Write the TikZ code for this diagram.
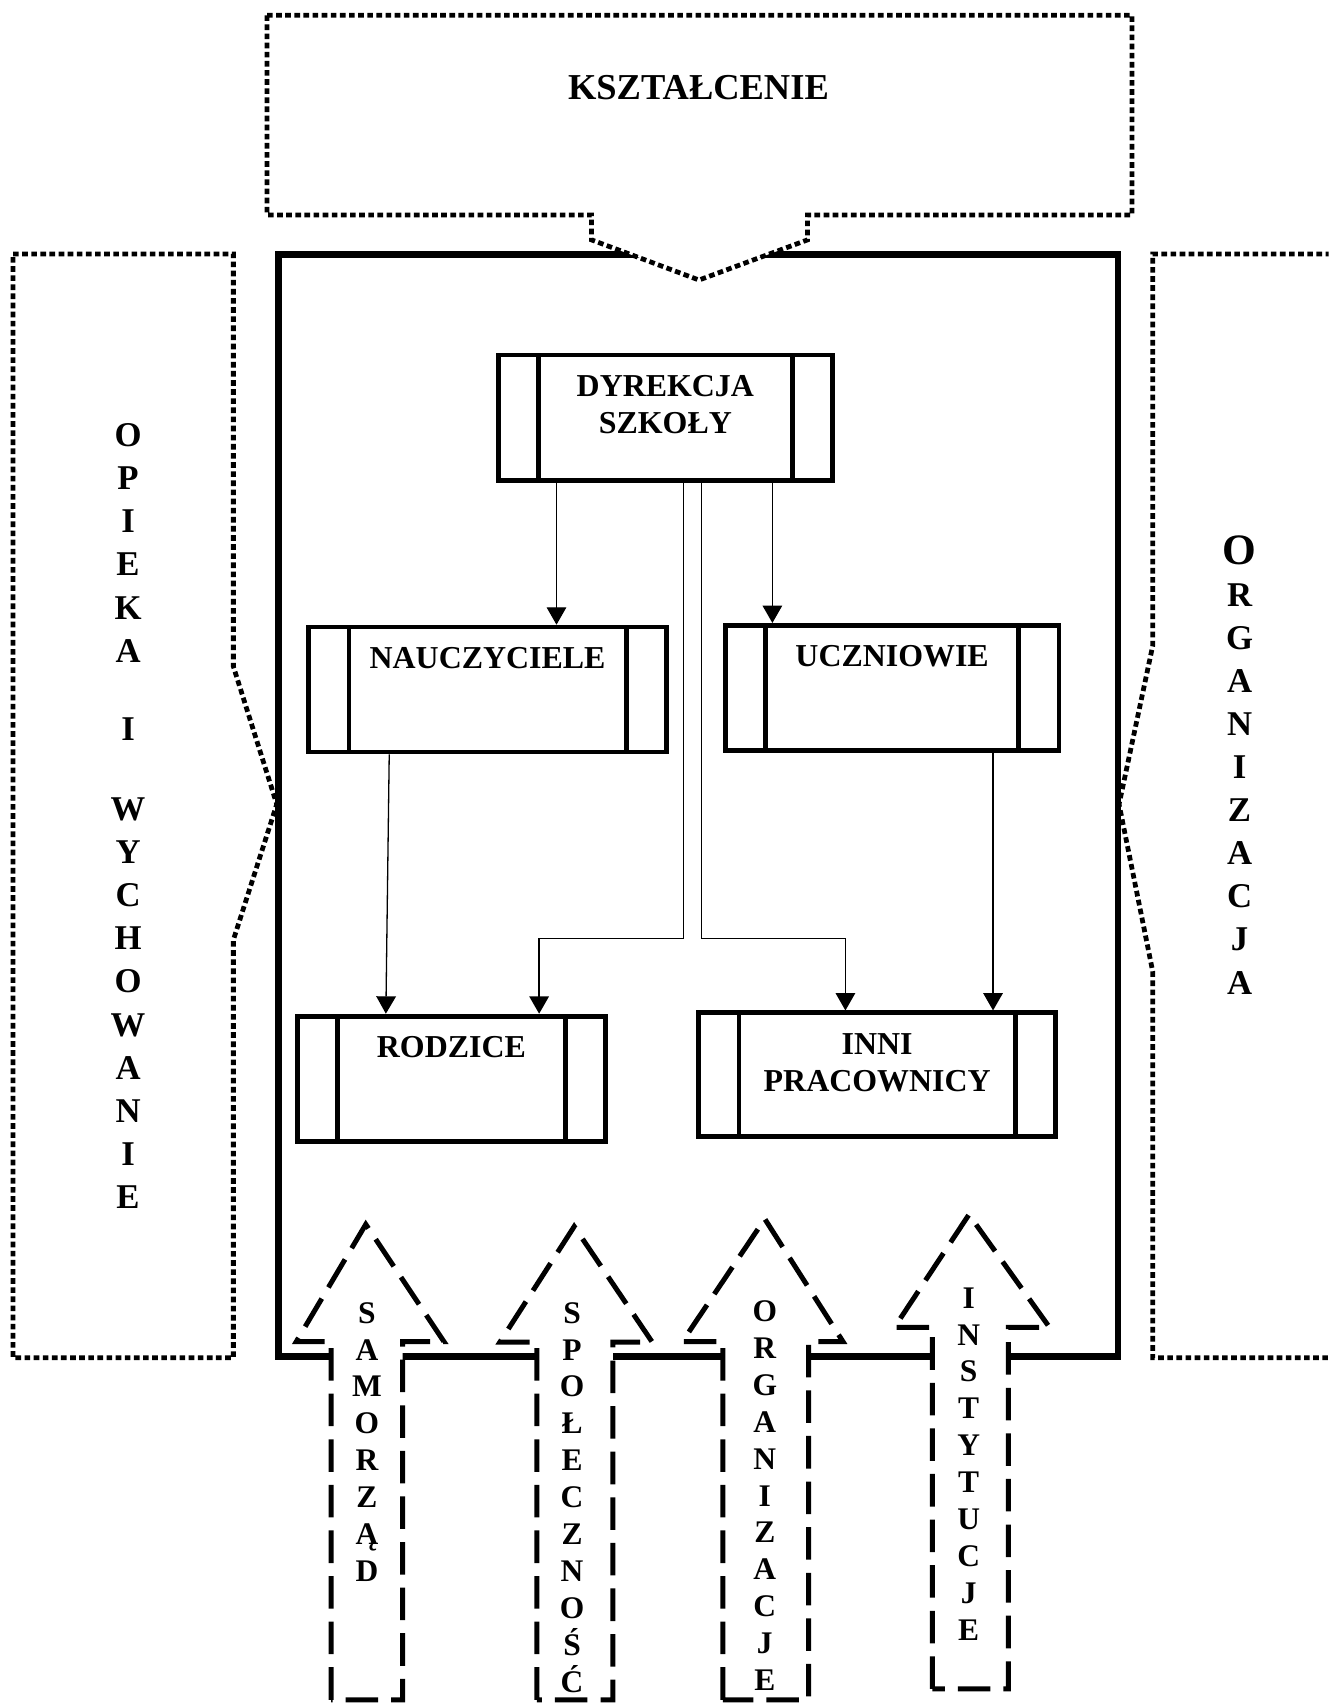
\documentclass[tikz,border=0pt]{standalone}
\usepackage{fontspec}
\setmainfont{Liberation Serif}
\usetikzlibrary{arrows.meta}

\begin{document}
\begin{tikzpicture}[x=0.5pt, y=-0.5pt,
  kropki/.style={line width=2.2pt, dash pattern=on 2.6pt off 1.6pt},
  proces/.style={draw, fill=white, line width=2.2pt, inner sep=0pt,
    path picture={\draw[line width=2.2pt]
      ([xshift=18.5pt]path picture bounding box.south west) -- ([xshift=18.5pt]path picture bounding box.north west)
      ([xshift=-18.5pt]path picture bounding box.south east) -- ([xshift=-18.5pt]path picture bounding box.north east);}},
  napis/.style={font=\bfseries\fontsize{14.7}{17}\selectfont, align=center, inner sep=0pt, anchor=north, yshift=-10.3pt},
  strz/.style={line width=0.6pt, -{Triangle[width=9pt,length=8pt]}},
  strzala/.style={draw, fill=white, line width=2.3pt, dash pattern=on 15pt off 6pt},
  litera/.style={font=\bfseries\fontsize{14.5}{14.5}\selectfont, inner sep=0pt, anchor=base},
  boczna/.style={font=\bfseries\fontsize{16}{16}\selectfont, inner sep=0pt, anchor=base}]
  \useasboundingbox (0,0) rectangle (1224,1569);
  \clip (0,0) rectangle (1224,1569);

  % szkola
  \draw[line width=3.2pt] (256.5,234.5) rectangle (1030,1250);

  % obszary wokol
  \draw[kropki] (12,234) -- (215,234) -- (215,614) -- (255,741) -- (215,866) -- (215,1251) -- (12,1251) -- cycle;
  \draw[kropki] (1260,234) -- (1062,234) -- (1062,595) -- (1031,741) -- (1062,895) -- (1062,1251) -- (1260,1251);
  \draw[kropki, fill=white] (246,14) -- (1043,14) -- (1043,198) -- (744,198) -- (744,221) -- (644,258)
    -- (545,221) -- (545,198) -- (246,198) -- cycle;
  \node[font=\bfseries\fontsize{16.8}{20}\selectfont, inner sep=0pt, anchor=base] (kszt) at (643.5,92.1) {KSZTAŁCENIE};

  % uczestnicy
  \node[proces, minimum width=153.85pt, minimum height=57.6pt, label={[napis]north:{DYREKCJA\\SZKOŁY}}] (dyr) at (613,384.75) {};
  \node[proces, minimum width=164.65pt, minimum height=57.55pt, label={[napis]north:NAUCZYCIELE}] (nau) at (449.2,635.3) {};
  \node[proces, minimum width=153.75pt, minimum height=57.55pt, label={[napis]north:UCZNIOWIE}] (ucz) at (821.9,633.7) {};
  \node[proces, minimum width=142pt, minimum height=57.85pt, label={[napis]north:RODZICE}] (rod) at (415.85,994) {};
  \node[proces, minimum width=164.4pt, minimum height=57pt, label={[napis]north:{INNI\\PRACOWNICY}}] (inni) at (808.15,990.15) {};

  \draw[strz] (512.7,0 |- dyr.south) -- (512.7,0 |- nau.north);
  \draw[strz] (711.6,0 |- dyr.south) -- (711.6,0 |- ucz.north);
  \draw[strz] (630,0 |- dyr.south) |- (496.7,864.4) -- (496.7,0 |- rod.north);
  \draw[strz] (646.2,0 |- dyr.south) |- (778.9,864.4) -- (778.9,0 |- inni.north);
  \draw[strz] (358.6,0 |- nau.south) -- (355.5,0 |- rod.north);
  \draw[strz] (914.9,0 |- ucz.south) -- (914.9,0 |- inni.north);

  % strzalki od dolu
  \foreach \l/\r/\hl/\hr/\tx/\ty/\by/\dy in {305/371/273/409/337/1128/1236/1566,
      494.6/564.7/460.5/601/529/1130/1236.6/1566,
      666/745/628.7/776.6/704.6/1123/1236/1566,
      859/929/824/967/892.7/1119/1223/1556}
    \draw[strzala] (\l,\dy) -- (\l,\by) -- (\hl,\by) -- (\tx,\ty) -- (\hr,\by) -- (\r,\by) -- (\r,\dy) -- cycle;

  \foreach \x/\y/\slowo [count=\k] in {338/1209.5/{S,A,M,O,R,Z,Ą,D},
      527/1209.5/{S,P,O,Ł,E,C,Z,N,O,Ś,Ć},
      704.6/1208/{O,R,G,A,N,I,Z,A,C,J,E},
      892.5/1195.7/{I,N,S,T,Y,T,U,C,J,E}}
    \foreach \z [count=\i] in \slowo
      \node[litera] (s\k-\i) at (\x,\y+34*\i-34+9.5) {\z};

  % napisy boczne
  \foreach \z/\y [count=\i] in {O/401, P/440.7, I/480.4, E/520, K/560, A/599.5, I/672, W/745, Y/784.8,
      C/824.6, H/864.4, O/904.2, W/944, A/983.8, N/1023.6, I/1063.4, E/1103.2}
    \node[boczna] (op\i) at (118,\y+10.5) {\z};
  \node[font=\bfseries\fontsize{20}{20}\selectfont, inner sep=0pt, anchor=base] (org0) at (1142,520.2) {O};
  \foreach \z/\y [count=\i] in {R/548, G/587.7, A/627.4, N/667.1, I/706.8, Z/746.5, A/786.2, C/825.9, J/865.6, A/905.3}
    \node[boczna] (org\i) at (1142,\y+10.5) {\z};
\end{tikzpicture}
\end{document}
